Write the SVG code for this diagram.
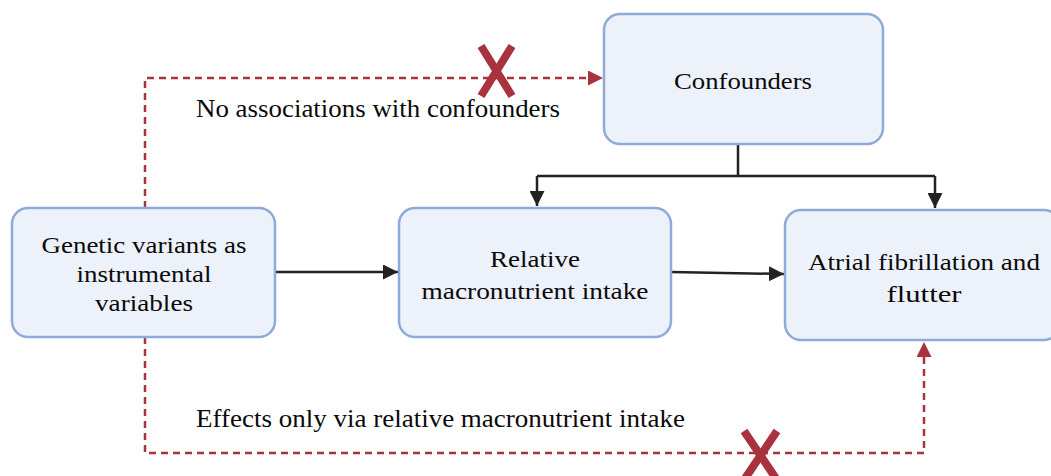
<svg xmlns="http://www.w3.org/2000/svg" width="1051" height="476" viewBox="0 0 1051 476">
<defs>
<style>
.box{fill:#edf2fa;stroke:#8eaad8;stroke-width:2.5}
text{font-family:'Liberation Serif','DejaVu Serif','Times New Roman',serif;font-size:25px;fill:#0a0a0a}
.t{text-anchor:middle;font-size:24px}
.blk{fill:none;stroke:#222;stroke-width:2.5}
.red{fill:none;stroke:#a8323e;stroke-width:2.5;stroke-dasharray:7 5}
.x{stroke:#a8323e;stroke-width:8;stroke-linecap:butt}
</style>
<marker id="ab" viewBox="0 0 10 10" refX="10" refY="5" markerWidth="6" markerHeight="6" orient="auto" markerUnits="strokeWidth"><path d="M0,0 L10,5 L0,10 z" fill="#222"/></marker>
<marker id="ar" viewBox="0 0 10 10" refX="10" refY="5" markerWidth="6" markerHeight="6" orient="auto" markerUnits="strokeWidth"><path d="M0,0 L10,5 L0,10 z" fill="#a8323e"/></marker>
</defs>
<g id="connectors">
<path class="blk" d="M738,144 V176"/>
<path class="blk" d="M537,176 H935"/>
<path class="blk" d="M537,176 V206" marker-end="url(#ab)"/>
<path class="blk" d="M935,176 V208" marker-end="url(#ab)"/>
<path class="blk" d="M275,272 H398" marker-end="url(#ab)"/>
<path class="blk" d="M671,272 L784,274" marker-end="url(#ab)"/>
<path class="red" d="M145,208 V78 H603" marker-end="url(#ar)"/>
<path class="red" d="M145,337 V453 H924 V342" marker-end="url(#ar)"/>
<line class="x" x1="481" y1="46" x2="512" y2="96"/>
<line class="x" x1="512" y1="46" x2="481" y2="96"/>
<line class="x" x1="744" y1="431" x2="777" y2="480"/>
<line class="x" x1="777" y1="431" x2="744" y2="480"/>
<text x="196" y="117" textLength="364" lengthAdjust="spacingAndGlyphs">No associations with confounders</text>
<text x="196" y="427" textLength="489" lengthAdjust="spacingAndGlyphs">Effects only via relative macronutrient intake</text>
</g>
<g id="confounders">
<rect class="box" x="604" y="14" width="279" height="130" rx="16"/>
<text class="t" x="743" y="89" textLength="138" lengthAdjust="spacingAndGlyphs">Confounders</text>
</g>
<g id="genetic">
<rect class="box" x="12" y="208" width="263" height="129" rx="16"/>
<text class="t" x="144" y="253" textLength="205" lengthAdjust="spacingAndGlyphs">Genetic variants as</text>
<text class="t" x="144" y="282" textLength="135" lengthAdjust="spacingAndGlyphs">instrumental</text>
<text class="t" x="144" y="311" textLength="98" lengthAdjust="spacingAndGlyphs">variables</text>
</g>
<g id="relative">
<rect class="box" x="399" y="208" width="272" height="129" rx="16"/>
<text class="t" x="535" y="267" textLength="90" lengthAdjust="spacingAndGlyphs">Relative</text>
<text class="t" x="535" y="299" textLength="227" lengthAdjust="spacingAndGlyphs">macronutrient intake</text>
</g>
<g id="atrial">
<rect class="box" x="785" y="210" width="275" height="130" rx="16"/>
<text class="t" x="924" y="270" textLength="232" lengthAdjust="spacingAndGlyphs">Atrial fibrillation and</text>
<text class="t" x="924" y="302" textLength="75" lengthAdjust="spacingAndGlyphs">flutter</text>
</g>
</svg>
